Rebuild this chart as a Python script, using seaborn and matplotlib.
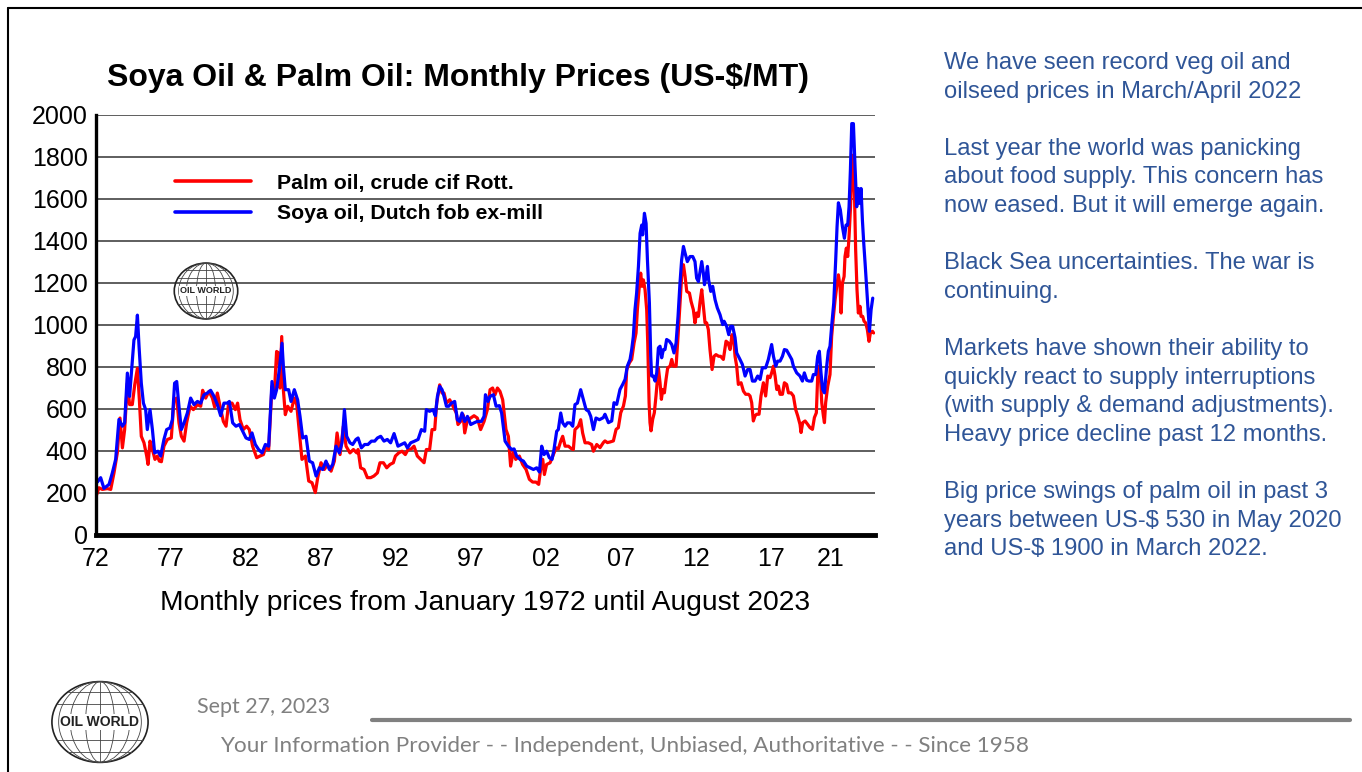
import numpy as np
import pandas as pd
import matplotlib
matplotlib.use('Agg')
import matplotlib.pyplot as plt
import seaborn as sns
from matplotlib.patches import Ellipse
from matplotlib.lines import Line2D

# --- data (decimal year, US-$/MT) ---
palm_label = 'Palm oil, crude cif Rott.'
soya_label = 'Soya oil, Dutch fob ex-mill'

palm_years = [1972.0, 1972.2, 1972.42, 1972.76, 1972.98, 1973.2, 1973.42, 1973.6, 1973.76, 1973.91,
              1974.09, 1974.24, 1974.42, 1974.58, 1974.76, 1974.89, 1975.02, 1975.2, 1975.38, 1975.47,
              1975.6, 1975.76, 1975.93, 1976.09, 1976.22, 1976.36, 1976.53, 1976.76, 1977.02, 1977.2,
              1977.38, 1977.53, 1977.69, 1977.87, 1978.04, 1978.27, 1978.49, 1978.76, 1978.98, 1979.11,
              1979.31, 1979.53, 1979.76, 1979.91, 1980.09, 1980.27, 1980.49, 1980.67, 1980.84, 1981.07,
              1981.29, 1981.44, 1981.6, 1981.82, 1982.04, 1982.22, 1982.44, 1982.71, 1982.93, 1983.16,
              1983.33, 1983.51, 1983.73, 1983.89, 1984.04, 1984.18, 1984.27, 1984.38, 1984.49, 1984.62,
              1984.78, 1985.0, 1985.22, 1985.38, 1985.56, 1985.73, 1985.96, 1986.18, 1986.4, 1986.62,
              1986.78, 1987.0, 1987.22, 1987.44, 1987.67, 1987.89, 1988.07, 1988.27, 1988.49, 1988.67,
              1988.93, 1989.16, 1989.38, 1989.47, 1989.64, 1989.87, 1990.09, 1990.31, 1990.53, 1990.76,
              1990.93, 1991.16, 1991.38, 1991.6, 1991.82, 1991.96, 1992.18, 1992.4, 1992.62, 1992.8,
              1993.02, 1993.2, 1993.42, 1993.64, 1993.87, 1994.02, 1994.24, 1994.4, 1994.58, 1994.71,
              1994.91, 1995.07, 1995.2, 1995.36, 1995.58, 1995.8, 1996.02, 1996.13, 1996.31, 1996.47,
              1996.58, 1996.76, 1996.98, 1997.2, 1997.42, 1997.64, 1997.87, 1998.09, 1998.27, 1998.44,
              1998.6, 1998.76, 1998.93, 1999.11, 1999.33, 1999.49, 1999.64, 1999.82, 1999.98, 2000.22,
              2000.44, 2000.67, 2000.89, 2001.11, 2001.33, 2001.51, 2001.64, 2001.78, 2001.89, 2002.04,
              2002.27, 2002.49, 2002.67, 2002.82, 2002.98, 2003.11, 2003.27, 2003.49, 2003.71, 2003.82,
              2003.93, 2004.16, 2004.31, 2004.44, 2004.6, 2004.82, 2005.04, 2005.16, 2005.38, 2005.6,
              2005.82, 2005.93, 2006.09, 2006.27, 2006.49, 2006.67, 2006.82, 2006.98, 2007.16, 2007.29,
              2007.38, 2007.56, 2007.71, 2007.87, 2008.0, 2008.09, 2008.2, 2008.31, 2008.4, 2008.49,
              2008.6, 2008.71, 2008.78, 2008.87, 2008.93, 2009.0, 2009.11, 2009.22, 2009.33, 2009.49,
              2009.6, 2009.69, 2009.78, 2009.89, 2010.0, 2010.11, 2010.27, 2010.38, 2010.49, 2010.67,
              2010.8, 2010.93, 2011.04, 2011.16, 2011.27, 2011.38, 2011.56, 2011.67, 2011.82, 2011.93,
              2012.04, 2012.16, 2012.27, 2012.38, 2012.49, 2012.6, 2012.71, 2012.82, 2012.93, 2013.07,
              2013.2, 2013.33, 2013.51, 2013.64, 2013.82, 2014.0, 2014.13, 2014.27, 2014.4, 2014.53,
              2014.6, 2014.71, 2014.82, 2015.0, 2015.16, 2015.31, 2015.49, 2015.6, 2015.71, 2015.82,
              2015.93, 2016.04, 2016.2, 2016.33, 2016.49, 2016.64, 2016.78, 2016.93, 2017.04, 2017.16,
              2017.27, 2017.38, 2017.49, 2017.6, 2017.76, 2017.89, 2018.04, 2018.16, 2018.33, 2018.49,
              2018.64, 2018.78, 2018.93, 2019.0, 2019.11, 2019.27, 2019.44, 2019.6, 2019.76, 2019.89,
              2020.02, 2020.11, 2020.2, 2020.29, 2020.38, 2020.49, 2020.56, 2020.64, 2020.78, 2020.93,
              2021.04, 2021.16, 2021.27, 2021.38, 2021.49, 2021.6, 2021.67, 2021.76, 2021.87, 2021.93,
              2022.02, 2022.11, 2022.2, 2022.29, 2022.38, 2022.47, 2022.56, 2022.64, 2022.73, 2022.82,
              2022.93, 2023.0, 2023.11, 2023.2, 2023.31, 2023.42, 2023.53, 2023.62, 2023.76, 2023.84]
palm_prices = [183, 225, 217, 221, 217, 296, 391, 557, 415, 502,
               723, 621, 621, 715, 794, 644, 470, 439, 376, 336,
               447, 407, 360, 376, 352, 349, 423, 455, 462, 644,
               652, 534, 470, 447, 534, 613, 597, 621, 613, 689,
               652, 684, 652, 609, 676, 613, 541, 518, 628, 628,
               597, 628, 549, 502, 518, 502, 423, 368, 376, 383,
               423, 407, 708, 676, 874, 866, 700, 945, 692, 573,
               613, 589, 652, 621, 486, 360, 376, 257, 249, 202,
               273, 344, 312, 336, 304, 352, 486, 383, 518, 423,
               391, 407, 391, 407, 320, 312, 273, 273, 281, 296,
               344, 344, 320, 336, 344, 376, 391, 399, 383, 407,
               410, 423, 376, 360, 344, 407, 407, 502, 502, 628,
               715, 676, 676, 628, 644, 613, 581, 526, 541, 573,
               486, 549, 557, 568, 557, 502, 541, 597, 692, 700,
               668, 700, 684, 644, 502, 470, 328, 399, 360, 376,
               336, 312, 265, 252, 252, 241, 312, 360, 288, 336,
               344, 383, 415, 410, 447, 470, 423, 423, 410, 407,
               502, 518, 549, 486, 439, 439, 431, 399, 431, 416,
               440, 448, 440, 443, 448, 503, 511, 582, 614, 662,
               788, 820, 836, 915, 962, 1073, 1168, 1247, 1184, 1215,
               1168, 1073, 915, 630, 535, 496, 551, 582, 662, 796,
               725, 646, 693, 677, 741, 796, 804, 836, 804, 804,
               946, 1105, 1231, 1287, 1231, 1160, 1152, 1112, 1073, 1010,
               1057, 1041, 1112, 1168, 1089, 1010, 1010, 978, 883, 788,
               851, 859, 851, 851, 836, 923, 915, 883, 954, 915,
               851, 804, 717, 725, 685, 670, 670, 662, 630, 543,
               567, 575, 575, 662, 725, 662, 757, 749, 772, 804,
               757, 693, 709, 670, 670, 725, 717, 677, 677, 662,
               598, 567, 527, 488, 535, 543, 527, 511, 503, 559,
               582, 757, 804, 757, 630, 567, 535, 630, 709, 764,
               946, 1041, 1120, 1184, 1239, 1184, 1057, 1200, 1231, 1326,
               1366, 1326, 1421, 1548, 1706, 1809, 1627, 1358, 1168, 1057,
               1089, 1041, 1041, 1018, 1010, 978, 922, 962, 970, 962]

soya_years = [1972.0, 1972.09, 1972.31, 1972.53, 1972.87, 1973.09, 1973.31, 1973.53, 1973.76, 1973.91,
              1974.09, 1974.24, 1974.38, 1974.53, 1974.64, 1974.76, 1974.87, 1975.02, 1975.16, 1975.31,
              1975.42, 1975.6, 1975.76, 1975.91, 1976.13, 1976.31, 1976.53, 1976.71, 1976.93, 1977.09,
              1977.24, 1977.38, 1977.53, 1977.69, 1977.87, 1978.09, 1978.31, 1978.53, 1978.76, 1978.98,
              1979.2, 1979.42, 1979.64, 1979.87, 1980.09, 1980.31, 1980.53, 1980.76, 1980.89, 1981.11,
              1981.33, 1981.56, 1981.78, 1982.0, 1982.22, 1982.4, 1982.62, 1982.84, 1983.07, 1983.29,
              1983.51, 1983.73, 1983.89, 1984.04, 1984.22, 1984.4, 1984.49, 1984.62, 1984.84, 1985.0,
              1985.22, 1985.44, 1985.6, 1985.78, 1986.0, 1986.22, 1986.44, 1986.67, 1986.89, 1987.11,
              1987.33, 1987.56, 1987.78, 1988.0, 1988.22, 1988.4, 1988.56, 1988.71, 1988.93, 1989.11,
              1989.33, 1989.47, 1989.69, 1989.91, 1990.13, 1990.36, 1990.58, 1990.76, 1990.98, 1991.2,
              1991.42, 1991.64, 1991.87, 1992.13, 1992.36, 1992.58, 1992.76, 1992.98, 1993.24, 1993.47,
              1993.69, 1993.91, 1994.02, 1994.24, 1994.47, 1994.62, 1994.76, 1994.91, 1995.07, 1995.2,
              1995.36, 1995.51, 1995.69, 1995.91, 1996.09, 1996.24, 1996.4, 1996.58, 1996.76, 1996.98,
              1997.2, 1997.42, 1997.69, 1997.87, 1997.96, 1998.13, 1998.27, 1998.49, 1998.67, 1998.89,
              1999.04, 1999.27, 1999.49, 1999.71, 1999.87, 2000.04, 2000.27, 2000.49, 2000.71, 2000.93,
              2001.16, 2001.38, 2001.56, 2001.71, 2001.87, 2002.04, 2002.22, 2002.4, 2002.53, 2002.71,
              2002.82, 2002.98, 2003.11, 2003.27, 2003.42, 2003.6, 2003.78, 2003.93, 2004.09, 2004.31,
              2004.49, 2004.67, 2004.84, 2004.98, 2005.16, 2005.33, 2005.56, 2005.82, 2005.93, 2006.16,
              2006.38, 2006.53, 2006.71, 2006.93, 2007.11, 2007.27, 2007.42, 2007.6, 2007.71, 2007.82,
              2007.93, 2008.04, 2008.16, 2008.27, 2008.38, 2008.44, 2008.56, 2008.67, 2008.76, 2008.89,
              2008.98, 2009.04, 2009.16, 2009.27, 2009.38, 2009.49, 2009.6, 2009.71, 2009.82, 2009.93,
              2010.04, 2010.22, 2010.38, 2010.53, 2010.67, 2010.8, 2010.93, 2011.04, 2011.16, 2011.27,
              2011.42, 2011.6, 2011.78, 2011.93, 2012.04, 2012.16, 2012.27, 2012.38, 2012.49, 2012.56,
              2012.67, 2012.76, 2012.84, 2012.98, 2013.11, 2013.27, 2013.42, 2013.6, 2013.78, 2013.87,
              2014.04, 2014.18, 2014.31, 2014.44, 2014.6, 2014.71, 2014.93, 2015.09, 2015.27, 2015.44,
              2015.6, 2015.76, 2015.93, 2016.11, 2016.27, 2016.42, 2016.64, 2016.82, 2017.04, 2017.16,
              2017.31, 2017.44, 2017.6, 2017.76, 2017.89, 2018.04, 2018.2, 2018.38, 2018.49, 2018.71,
              2018.93, 2019.09, 2019.22, 2019.38, 2019.53, 2019.71, 2019.82, 2019.98, 2020.11, 2020.22,
              2020.33, 2020.44, 2020.56, 2020.71, 2020.82, 2020.93, 2021.04, 2021.18, 2021.31, 2021.4,
              2021.49, 2021.62, 2021.76, 2021.89, 2022.0, 2022.11, 2022.2, 2022.29, 2022.38, 2022.49,
              2022.6, 2022.71, 2022.82, 2022.91, 2023.0, 2023.09, 2023.18, 2023.27, 2023.38, 2023.49,
              2023.56, 2023.67, 2023.78]
soya_prices = [262, 252, 273, 222, 241, 296, 360, 550, 518, 534,
               771, 660, 787, 929, 945, 1047, 897, 723, 628, 597,
               502, 597, 502, 391, 399, 376, 455, 502, 510, 549,
               723, 731, 613, 502, 534, 581, 652, 621, 636, 628,
               668, 676, 689, 660, 621, 568, 628, 628, 636, 534,
               518, 526, 494, 462, 455, 486, 431, 407, 391, 431,
               423, 731, 652, 692, 787, 913, 803, 692, 692, 636,
               692, 644, 565, 462, 470, 352, 344, 281, 320, 312,
               352, 312, 336, 423, 391, 439, 597, 470, 439, 431,
               455, 462, 415, 431, 431, 447, 447, 462, 470, 447,
               455, 439, 483, 423, 431, 439, 415, 439, 447, 455,
               502, 494, 597, 589, 597, 568, 660, 708, 692, 660,
               613, 613, 628, 636, 549, 541, 581, 541, 565, 526,
               534, 541, 541, 565, 668, 636, 660, 668, 613, 616,
               581, 447, 423, 407, 410, 376, 360, 352, 328, 320,
               312, 320, 300, 423, 383, 399, 368, 360, 407, 494,
               502, 581, 534, 518, 534, 534, 518, 621, 628, 692,
               644, 597, 589, 565, 502, 557, 549, 559, 575, 535,
               543, 630, 622, 693, 717, 741, 804, 836, 883, 946,
               1073, 1152, 1279, 1437, 1476, 1429, 1532, 1484, 1310, 1105,
               851, 757, 757, 733, 772, 891, 899, 844, 883, 883,
               931, 923, 907, 867, 915, 1041, 1200, 1310, 1374, 1342,
               1302, 1326, 1326, 1302, 1223, 1207, 1255, 1302, 1247, 1192,
               1231, 1279, 1215, 1160, 1184, 1120, 1081, 1049, 1002, 1018,
               994, 954, 994, 994, 940, 867, 836, 812, 757, 788,
               788, 733, 733, 757, 741, 796, 796, 836, 907, 851,
               804, 828, 828, 851, 883, 880, 859, 836, 804, 772,
               757, 733, 772, 737, 733, 733, 764, 764, 851, 875,
               772, 693, 677, 804, 875, 899, 994, 1105, 1310, 1468,
               1582, 1548, 1468, 1413, 1476, 1476, 1563, 1737, 1959, 1959,
               1753, 1563, 1650, 1579, 1650, 1500, 1389, 1294, 1168, 1041,
               970, 1073, 1128]

tick_years = [1972, 1977, 1982, 1987, 1992, 1997, 2002, 2007, 2012, 2017, 2021]
tick_labels = ['72', '77', '82', '87', '92', '97', '02', '07', '12', '17', '21']
y_ticks = [0, 200, 400, 600, 800, 1000, 1200, 1400, 1600, 1800, 2000]

notes = ['We have seen record veg oil and',
         'oilseed prices in March/April 2022',
         '',
         'Last year the world was panicking',
         'about food supply. This concern has',
         'now eased. But it will emerge again.',
         '',
         'Black Sea uncertainties. The war is',
         'continuing.',
         '',
         'Markets have shown their ability to',
         'quickly react to supply interruptions',
         '(with supply & demand adjustments).',
         'Heavy price decline past 12 months.',
         '',
         'Big price swings of palm oil in past 3',
         'years between US-$ 530 in May 2020',
         'and US-$ 1900 in March 2022.']

df = pd.concat([
    pd.DataFrame({'year': palm_years, 'price': palm_prices, 'series': palm_label}),
    pd.DataFrame({'year': soya_years, 'price': soya_prices, 'series': soya_label}),
])

sns.set_style('white')
plt.rcParams['font.family'] = ['Liberation Sans', 'DejaVu Sans']
plt.rcParams['text.color'] = 'black'
plt.rcParams['axes.labelcolor'] = 'black'

W, H = 1362, 772
fig = plt.figure(figsize=(W / 100, H / 100), dpi=100)
ax = fig.add_axes([96 / W, 1 - 535 / H, 779 / W, 420 / H])

sns.lineplot(data=df, x='year', y='price', hue='series', hue_order=[palm_label, soya_label],
             palette={palm_label: '#ff0000', soya_label: '#0000ff'},
             estimator=None, sort=False, linewidth=2.3, ax=ax)

ax.set_xlim(1972, 2023.93)
ax.set_ylim(0, 2000)
ax.set_xticks(tick_years)
ax.set_xticklabels(tick_labels)
ax.set_yticks(y_ticks)
ax.tick_params(axis='both', length=0, labelsize=18, colors='black')
ax.tick_params(axis='x', pad=9)
ax.tick_params(axis='y', pad=6)
ax.grid(axis='y', color='#333333', linewidth=1.1)
ax.grid(axis='x', visible=False)
ax.set_axisbelow(True)
for s in ['top', 'right']:
    ax.spines[s].set_visible(False)
ax.spines['left'].set_color('black')
ax.spines['left'].set_linewidth(2.4)
ax.spines['bottom'].set_color('black')
ax.spines['bottom'].set_linewidth(3.5)
ax.set_xlabel('Monthly prices from January 1972 until August 2023', fontsize=20.3, labelpad=13)
ax.set_ylabel('')

leg = ax.legend(loc='upper left', bbox_to_anchor=(0.101, 0.86), frameon=False,
                borderpad=0, borderaxespad=0, handlelength=3.6, handletextpad=1.2,
                labelspacing=0.55, prop={'size': 15.3, 'weight': 'bold'})
for line in leg.get_lines():
    line.set_linewidth(2.6)

fig.text(458 / W, 1 - 78 / H, 'Soya Oil & Palm Oil: Monthly Prices (US-$/MT)',
         ha='center', va='center', fontsize=23, fontweight='bold', color='black')


def globe(cx, cy, w, h, fs):
    gax = fig.add_axes([(cx - w / 2) / W, 1 - (cy + h / 2) / H, w / W, h / H])
    gax.set_xlim(-1.04, 1.04)
    gax.set_ylim(-1.04, 1.04)
    gax.axis('off')
    gax.add_patch(Ellipse((0, 0), 2, 2, fill=False, lw=1.2, ec='#222222'))
    for k in [0.3, 0.62, 0.86]:
        gax.add_patch(Ellipse((0, 0), 2 * k, 2, fill=False, lw=0.6, ec='#444444'))
    gax.plot([0, 0], [-1, 1], color='#444444', lw=0.6)
    for yy in [-0.75, -0.45, 0.45, 0.75]:
        xx = np.sqrt(1 - yy ** 2)
        gax.plot([-xx, xx], [yy, yy], color='#444444', lw=0.6)
    gax.text(0, 0, 'OIL WORLD', ha='center', va='center', fontsize=fs, fontweight='bold',
             color='#222222', bbox=dict(fc='white', ec='none', pad=0.6))


globe(206, 291, 66, 58, 6.5)
globe(100, 722, 100, 84, 10)

for i, line in enumerate(notes):
    if line:
        fig.text(944 / W, 1 - (63 + 28.6 * i) / H, line, ha='left', va='center',
                 fontsize=17.1, color='#2F5597')

fig.text(197 / W, 1 - 707 / H, 'Sept 27, 2023', ha='left', va='center',
         fontsize=15.5, color='#808080', family=['Lato', 'DejaVu Sans'])
fig.text(220 / W, 1 - 746 / H,
         'Your Information Provider - - Independent, Unbiased, Authoritative - - Since 1958',
         ha='left', va='center', fontsize=16.2, color='#808080', family=['Lato', 'DejaVu Sans'])

fig.add_artist(Line2D([372 / W, 1350 / W], [1 - 720 / H, 1 - 720 / H], color='#808080',
                      linewidth=3, transform=fig.transFigure))
fig.add_artist(Line2D([8 / W, 1.0], [1 - 8 / H, 1 - 8 / H], color='black', linewidth=1.5,
                      transform=fig.transFigure))
fig.add_artist(Line2D([8 / W, 8 / W], [0, 1 - 8 / H], color='black', linewidth=1.5,
                      transform=fig.transFigure))

fig.savefig('out.png', dpi=100)
